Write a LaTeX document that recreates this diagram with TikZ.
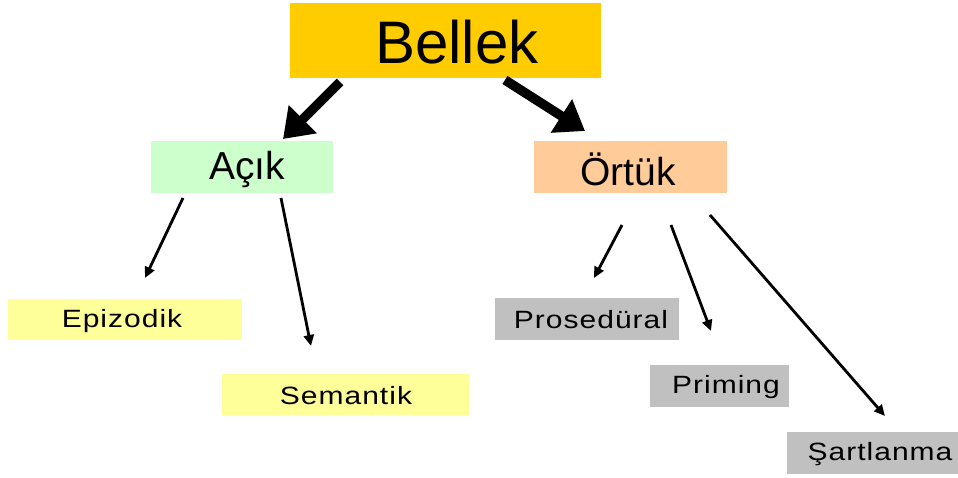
\documentclass[tikz,border=0pt]{standalone}
\usepackage{fontspec}
\setmainfont{Liberation Sans}
\usetikzlibrary{arrows.meta}
\definecolor{cBellek}{HTML}{FFCC00}
\definecolor{cAcik}{HTML}{CCFFCC}
\definecolor{cOrtuk}{HTML}{FFCC99}
\definecolor{cYel}{HTML}{FFFF99}
\definecolor{cGray}{HTML}{C0C0C0}
\tikzset{
  bigarrow/.style={line width=9.5pt, -{Triangle[length=28pt,width=38pt]}},
  thinarrow/.style={line width=2.8pt, -{Triangle[length=11pt,width=10pt]}},
  smalltxt/.style={font=\fontsize{25}{25}\selectfont\addfontfeature{FakeStretch=1.2,LetterSpace=4}},
  midtxt/.style={font=\fontsize{39}{39}\selectfont},
}
\begin{document}
\begin{tikzpicture}[x=1pt,y=-1pt]
\useasboundingbox (0,0) rectangle (958,477);
% boxes
\fill[cBellek] (290,3) rectangle (601,78);
\node[font=\fontsize{60}{60}\selectfont] (bellek) at (457,42) {Bellek};
\fill[cAcik] (151,141) rectangle (333,193);
\node[midtxt] (acik) at (247,169) {Açık};
\fill[cOrtuk] (534,141) rectangle (727,193);
\node[midtxt] (ortuk) at (628,169) {Örtük};
\fill[cYel] (8,299) rectangle (242,340);
\node[smalltxt] (epi) at (122,321) {Epizodik};
\fill[cYel] (222,374) rectangle (469,415);
\node[smalltxt] (sem) at (346,396) {Semantik};
\fill[cGray] (495,298) rectangle (679,340);
\node[smalltxt] (pro) at (591,320) {Prosedüral};
\fill[cGray] (650,365) rectangle (789,407);
\node[smalltxt] (pri) at (726,387) {Priming};
\fill[cGray] (787,432) rectangle (958,474);
\node[smalltxt] (sar) at (880,454) {Şartlanma};
% arrow endpoints
\coordinate (a1s) at (340,82); \coordinate (a1e) at (283,139);
\coordinate (a2s) at (505,80); \coordinate (a2e) at (585,131);
\coordinate (a3s) at (183,198); \coordinate (a3e) at (145,278);
\coordinate (a4s) at (281,198); \coordinate (a4e) at (311,346);
\coordinate (a5s) at (622,225); \coordinate (a5e) at (594,278);
\coordinate (a6s) at (671,225); \coordinate (a6e) at (711,331);
\coordinate (a7s) at (710,215); \coordinate (a7e) at (885,416);
\draw[bigarrow] (a1s) -- (a1e);
\draw[bigarrow] (a2s) -- (a2e);
\draw[thinarrow] (a3s) -- (a3e);
\draw[thinarrow] (a4s) -- (a4e);
\draw[thinarrow] (a5s) -- (a5e);
\draw[thinarrow] (a6s) -- (a6e);
\draw[thinarrow] (a7s) -- (a7e);
\end{tikzpicture}
\end{document}
